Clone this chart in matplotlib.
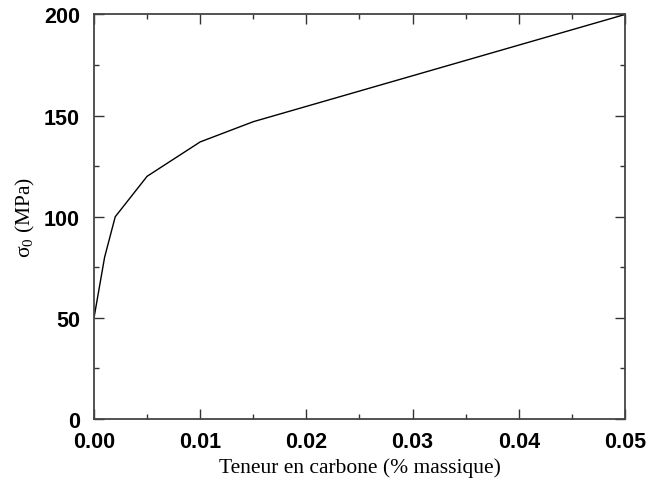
import matplotlib
matplotlib.use("Agg")
import matplotlib.pyplot as plt
from matplotlib.ticker import MultipleLocator

# teneur en carbone (% massique) et limite d'elasticite sigma_0 (MPa)
carbone = [0.0, 0.001, 0.002, 0.005, 0.010, 0.015, 0.050]
sigma0 = [50, 80, 100, 120, 137, 147, 200]

x_ticks = [0.00, 0.01, 0.02, 0.03, 0.04, 0.05]
y_ticks = [0, 50, 100, 150, 200]

plt.rcParams['mathtext.fontset'] = 'custom'
plt.rcParams['mathtext.rm'] = 'Liberation Serif'
plt.rcParams['mathtext.it'] = 'Liberation Serif:italic'

fig = plt.figure(figsize=(6.61, 4.81), dpi=100)
ax = fig.add_axes([0.1422, 0.1268, 0.8033, 0.841])

ax.plot(carbone, sigma0, color='black', linewidth=1.0)

ax.set_xlim(0, 0.05)
ax.set_ylim(0, 200)
ax.set_xticks(x_ticks)
ax.set_yticks(y_ticks)
ax.set_xticklabels([f"{v:.2f}" for v in x_ticks])
ax.set_yticklabels([str(v) for v in y_ticks])
ax.xaxis.set_minor_locator(MultipleLocator(0.005))
ax.yaxis.set_minor_locator(MultipleLocator(25))

ax.tick_params(which='both', direction='in', top=True, right=True,
               width=1.0, color='#333333')
ax.tick_params(which='major', length=7)
ax.tick_params(which='minor', length=3.5)
ax.tick_params(axis='y', which='major', pad=10)
ax.tick_params(axis='x', which='major', pad=8.5)

for lab in ax.get_xticklabels() + ax.get_yticklabels():
    lab.set_family('Liberation Sans')
    lab.set_fontweight('bold')
    lab.set_fontsize(15.5)

for sp in ax.spines.values():
    sp.set_linewidth(1.3)
    sp.set_color('#444444')

ax.set_xlabel('Teneur en carbone (% massique)', family='Liberation Serif',
              fontsize=15.5, labelpad=4)
ax.set_ylabel('σ$_0$ (MPa)', family='Liberation Serif', fontsize=15.5,
              labelpad=5)

fig.savefig('out.png', dpi=100)
